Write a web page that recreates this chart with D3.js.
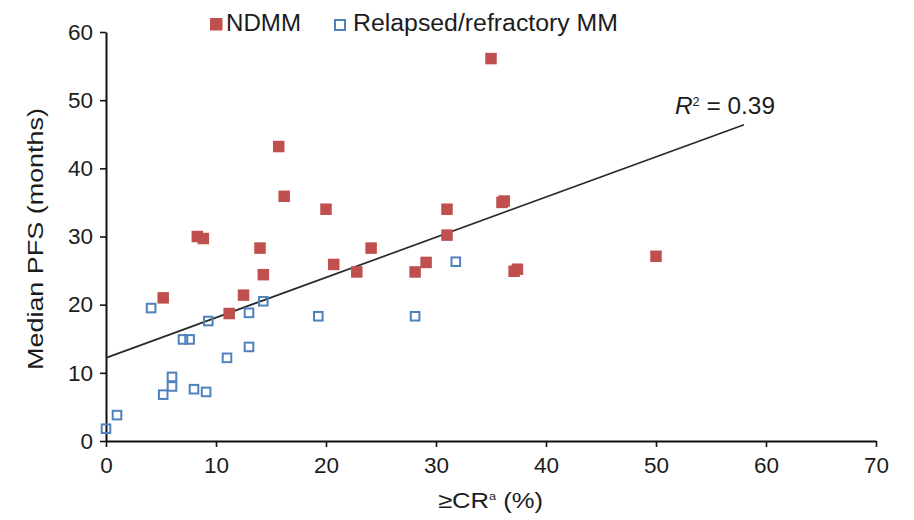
<!DOCTYPE html>
<html>
<head>
<meta charset="utf-8">
<script src="https://cdn.jsdelivr.net/npm/d3@7"></script>
<style>
  html, body { margin: 0; padding: 0; background: #fff; }
  svg { display: block; font-family: "Liberation Sans", Arial, sans-serif; }
</style>
</head>
<body>
<svg id="chart" width="914" height="520"></svg>
<script>
// Newly diagnosed MM: ≥CR rate (%) vs median PFS (months)
const ndmmX = [5.2, 8.3, 8.85, 11.2, 12.5, 14.0, 14.3, 15.7, 16.2, 20.0, 20.7, 22.8, 24.1, 28.1, 29.1, 31.0, 31.0, 35.0, 36.0, 36.2, 37.1, 37.4, 50.0];
const ndmmY = [21.0, 30.0, 29.7, 18.7, 21.4, 28.3, 24.4, 43.2, 35.9, 34.0, 25.9, 24.8, 28.3, 24.8, 26.2, 34.0, 30.2, 56.1, 35.0, 35.2, 24.9, 25.2, 27.1];

// Relapsed/refractory MM
const rrX = [0, 1.0, 4.1, 5.2, 6.0, 6.0, 7.0, 7.6, 8.0, 9.1, 9.3, 11.0, 13.0, 13.0, 14.3, 19.3, 28.1, 31.8];
const rrY = [1.8, 3.8, 19.5, 6.8, 9.4, 8.0, 14.9, 14.9, 7.6, 7.2, 17.6, 12.2, 18.8, 13.8, 20.5, 18.3, 18.3, 26.3];

// Linear trend line end points and its fit
const trendX = [0, 58];
const trendY = [12.2, 46.4];
const rSquared = "0.39";

const xTicks = [0, 10, 20, 30, 40, 50, 60, 70];
const yTicks = [0, 10, 20, 30, 40, 50, 60];
const seriesNames = ["NDMM", "Relapsed/refractory MM"];

const svg = d3.select("#chart");
const textColor = "#1c1c1c";
const red = "#c0504d";
const blue = "#4f81bd";

const x = d3.scaleLinear().domain([0, 70]).range([106, 876]);
const y = d3.scaleLinear().domain([0, 60]).range([441, 32]);

svg.append("rect").attr("width", 914).attr("height", 520).attr("fill", "#fff");

// Axes
const xAxis = svg.append("g")
  .attr("transform", `translate(0,${y(0)})`)
  .call(d3.axisBottom(x).tickValues(xTicks).tickSize(6).tickPadding(10).tickSizeOuter(0));
const yAxis = svg.append("g")
  .attr("transform", `translate(${x(0)},0)`)
  .call(d3.axisLeft(y).tickValues(yTicks).tickSize(6).tickPadding(7).tickSizeOuter(0));

[xAxis, yAxis].forEach(g => {
  g.select(".domain").attr("stroke", "#111").attr("stroke-width", 2);
  g.selectAll(".tick line").attr("stroke", "#111").attr("stroke-width", 1.6);
  g.selectAll(".tick text")
    .attr("fill", textColor)
    .style("font-size", "22.5px")
    .style("font-family", "'Liberation Sans', Arial, sans-serif");
});

// Trend line
svg.append("line")
  .attr("x1", x(trendX[0])).attr("y1", y(trendY[0]))
  .attr("x2", x(trendX[1])).attr("y2", y(trendY[1]))
  .attr("stroke", "#2a2a2a").attr("stroke-width", 1.7);

// R² label
const rLabel = svg.append("text")
  .attr("x", 675).attr("y", 114)
  .attr("fill", textColor)
  .style("font-size", "23px")
  .attr("textLength", 100).attr("lengthAdjust", "spacingAndGlyphs");
rLabel.append("tspan").style("font-style", "italic").text("R");
rLabel.append("tspan").attr("dy", -8).style("font-size", "12px").text("2");
rLabel.append("tspan").attr("dy", 8).text(" = " + rSquared);

// Relapsed/refractory points (open squares)
const rrData = rrX.map((v, i) => [v, rrY[i]]);
const rs = 8.6;
svg.append("g").selectAll("rect")
  .data(rrData)
  .join("rect")
  .attr("x", d => x(d[0]) - rs / 2)
  .attr("y", d => y(d[1]) - rs / 2)
  .attr("width", rs).attr("height", rs)
  .attr("fill", "none")
  .attr("stroke", blue)
  .attr("stroke-width", 2);

// NDMM points (filled squares)
const ndData = ndmmX.map((v, i) => [v, ndmmY[i]]);
const ns = 11.5;
svg.append("g").selectAll("rect")
  .data(ndData)
  .join("rect")
  .attr("x", d => x(d[0]) - ns / 2)
  .attr("y", d => y(d[1]) - ns / 2)
  .attr("width", ns).attr("height", ns)
  .attr("fill", red);

// Legend
svg.append("rect").attr("x", 210).attr("y", 18).attr("width", 12.5).attr("height", 12.5).attr("fill", red);
svg.append("text").attr("x", 226).attr("y", 31).attr("fill", textColor)
  .style("font-size", "23px")
  .attr("textLength", 75).attr("lengthAdjust", "spacingAndGlyphs")
  .text(seriesNames[0]);
svg.append("rect").attr("x", 335).attr("y", 20).attr("width", 10).attr("height", 10)
  .attr("fill", "none").attr("stroke", blue).attr("stroke-width", 2);
svg.append("text").attr("x", 353).attr("y", 31).attr("fill", textColor)
  .style("font-size", "23px")
  .attr("textLength", 265).attr("lengthAdjust", "spacingAndGlyphs")
  .text(seriesNames[1]);

// Axis titles
const xTitle = svg.append("text")
  .attr("x", 438).attr("y", 508)
  .attr("fill", textColor)
  .style("font-size", "22px")
  .attr("textLength", 105).attr("lengthAdjust", "spacingAndGlyphs");
xTitle.append("tspan").text("≥CR");
xTitle.append("tspan").attr("dy", -8).style("font-size", "11px").text("a");
xTitle.append("tspan").attr("dy", 8).text(" (%)");

svg.append("text")
  .attr("transform", "translate(43,239) rotate(-90)")
  .attr("text-anchor", "middle")
  .attr("fill", textColor)
  .style("font-size", "22.5px")
  .attr("textLength", 262).attr("lengthAdjust", "spacingAndGlyphs")
  .text("Median PFS (months)");
</script>
</body>
</html>
